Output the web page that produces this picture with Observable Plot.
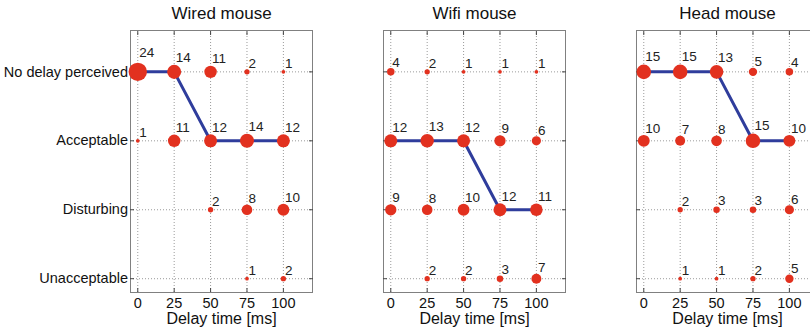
<!DOCTYPE html>
<html><head><meta charset="utf-8">
<script src="https://cdn.jsdelivr.net/npm/d3@7"></script>
<script src="https://cdn.jsdelivr.net/npm/@observablehq/plot@0.6"></script>
<style>
html,body{margin:0;padding:0;background:#fff;overflow:hidden;}
#chart{width:810px;height:334px;overflow:hidden;}
#chart svg{font-family:"Liberation Sans",Arial,Helvetica,sans-serif;max-width:none !important;height:334px !important;}
</style></head><body><div id="chart"></div>
<script>
// ---- data ----
const panels = ["Wired mouse", "Wifi mouse", "Head mouse"];
// categories from bottom (1) to top (4)
const levels = ["Unacceptable", "Disturbing", "Acceptable", "No delay perceived"];
const delays = [0, 25, 50, 75, 100];
const xLabel = "Delay time [ms]";

// counts per delay (0, 25, 50, 75, 100); null = no response
const wiredNoDelay     = [24, 14, 11, 2, 1];
const wiredAcceptable  = [1, 11, 12, 14, 12];
const wiredDisturbing  = [null, null, 2, 8, 10];
const wiredUnaccept    = [null, null, null, 1, 2];

const wifiNoDelay      = [4, 2, 1, 1, 1];
const wifiAcceptable   = [12, 13, 12, 9, 6];
const wifiDisturbing   = [9, 8, 10, 12, 11];
const wifiUnaccept     = [null, 2, 2, 3, 7];

const headNoDelay      = [15, 15, 13, 5, 4];
const headAcceptable   = [10, 7, 8, 15, 10];
const headDisturbing   = [null, 2, 3, 3, 6];
const headUnaccept     = [null, 1, 1, 2, 5];

// most frequent answer per delay (blue line)
const wiredMode = ["No delay perceived", "No delay perceived", "Acceptable", "Acceptable", "Acceptable"];
const wifiMode  = ["Acceptable", "Acceptable", "Acceptable", "Disturbing", "Disturbing"];
const headMode  = ["No delay perceived", "No delay perceived", "No delay perceived", "Acceptable", "Acceptable"];

// ---- build tables ----
const counts = {
  "Wired mouse": {"No delay perceived": wiredNoDelay, "Acceptable": wiredAcceptable, "Disturbing": wiredDisturbing, "Unacceptable": wiredUnaccept},
  "Wifi mouse":  {"No delay perceived": wifiNoDelay,  "Acceptable": wifiAcceptable,  "Disturbing": wifiDisturbing,  "Unacceptable": wifiUnaccept},
  "Head mouse":  {"No delay perceived": headNoDelay,  "Acceptable": headAcceptable,  "Disturbing": headDisturbing,  "Unacceptable": headUnaccept}
};
const modes = {"Wired mouse": wiredMode, "Wifi mouse": wifiMode, "Head mouse": headMode};
const lvl = name => levels.indexOf(name) + 1;

const cells = [];
for (const p of panels) for (const L of levels) counts[p][L].forEach((n, i) => {
  if (n != null) cells.push({panel: p, delay: delays[i], level: lvl(L), n});
});
const modeRows = [];
for (const p of panels) modes[p].forEach((L, i) => modeRows.push({panel: p, delay: delays[i], level: lvl(L)}));

const red = "#e2311f", blue = "#2f3d9c";
const H = 334, mTop = 30, mBottom = 42;
const yDomain = [0.8, 4.6];
const pxPerUnit = (H - mTop - mBottom) / (yDomain[1] - yDomain[0]);

const chart = Plot.plot({
  width: 818, height: H,
  marginLeft: 130, marginRight: 0, marginTop: mTop, marginBottom: mBottom,
  style: {fontFamily: "Liberation Sans, Arial, sans-serif", background: "#fff", color: "#111", maxWidth: "none"},
  fx: {domain: panels, paddingInner: 0.2806, paddingOuter: 0, round: false, label: null},
  x: {domain: [-5, 120]},
  y: {domain: yDomain},
  r: {type: "sqrt", domain: [0, 24], range: [0, 9.2]},
  marks: [
    Plot.gridX(delays, {stroke: "#9a9a9a", strokeOpacity: 1, strokeDasharray: "1,2"}),
    Plot.gridY([1, 2, 3, 4], {stroke: "#9a9a9a", strokeOpacity: 1, strokeDasharray: "1,2"}),
    Plot.frame({stroke: "#808080"}),
    Plot.axisY([1, 2, 3, 4], {anchor: "left", tickSize: 4, dx: 4, fill: "none", stroke: "#444", label: null, facetAnchor: null}),
    Plot.axisY([1, 2, 3, 4], {anchor: "right", tickSize: 4, dx: -4, fill: "none", stroke: "#444", label: null, facetAnchor: null}),
    Plot.axisX(delays, {anchor: "bottom", tickSize: 4, dy: -4, fill: "none", stroke: "#444", label: null, facetAnchor: null}),
    Plot.axisX(delays, {anchor: "top", tickSize: 4, dy: 4, fill: "none", stroke: "#444", label: null, facetAnchor: null}),
    Plot.axisY([1, 2, 3, 4], {anchor: "left", tickSize: 0, tickPadding: 2.5, tickFormat: i => levels[i - 1], fontSize: 14.5, fill: "#111", label: null}),
    Plot.axisX(delays, {anchor: "bottom", tickSize: 0, tickPadding: 5, fontSize: 14.5, fill: "#111", label: null, facetAnchor: null}),
    Plot.axisFx({anchor: "top", tickSize: 0, tickPadding: 11.5, fontSize: 17, fill: "#111", label: null}),
    Plot.text(panels, {fx: d => d, text: () => xLabel, frameAnchor: "bottom", lineAnchor: "bottom", dy: 31.5, fontSize: 16, fill: "#111"}),
    Plot.line(modeRows, {fx: "panel", z: "panel", x: "delay", y: "level", stroke: blue, strokeWidth: 3}),
    Plot.dot(cells, {fx: "panel", x: "delay", y: "level", r: "n", fill: red, stroke: "none"}),
    Plot.text(cells, {fx: "panel", x: "delay", y: d => d.level + (0.5 * d.n + 3) / pxPerUnit, text: "n",
      textAnchor: "start", lineAnchor: "bottom", dx: 1.5, fontSize: 13.5, fill: "#222"})
  ]
});
document.getElementById("chart").appendChild(chart);
</script>
</body></html>
